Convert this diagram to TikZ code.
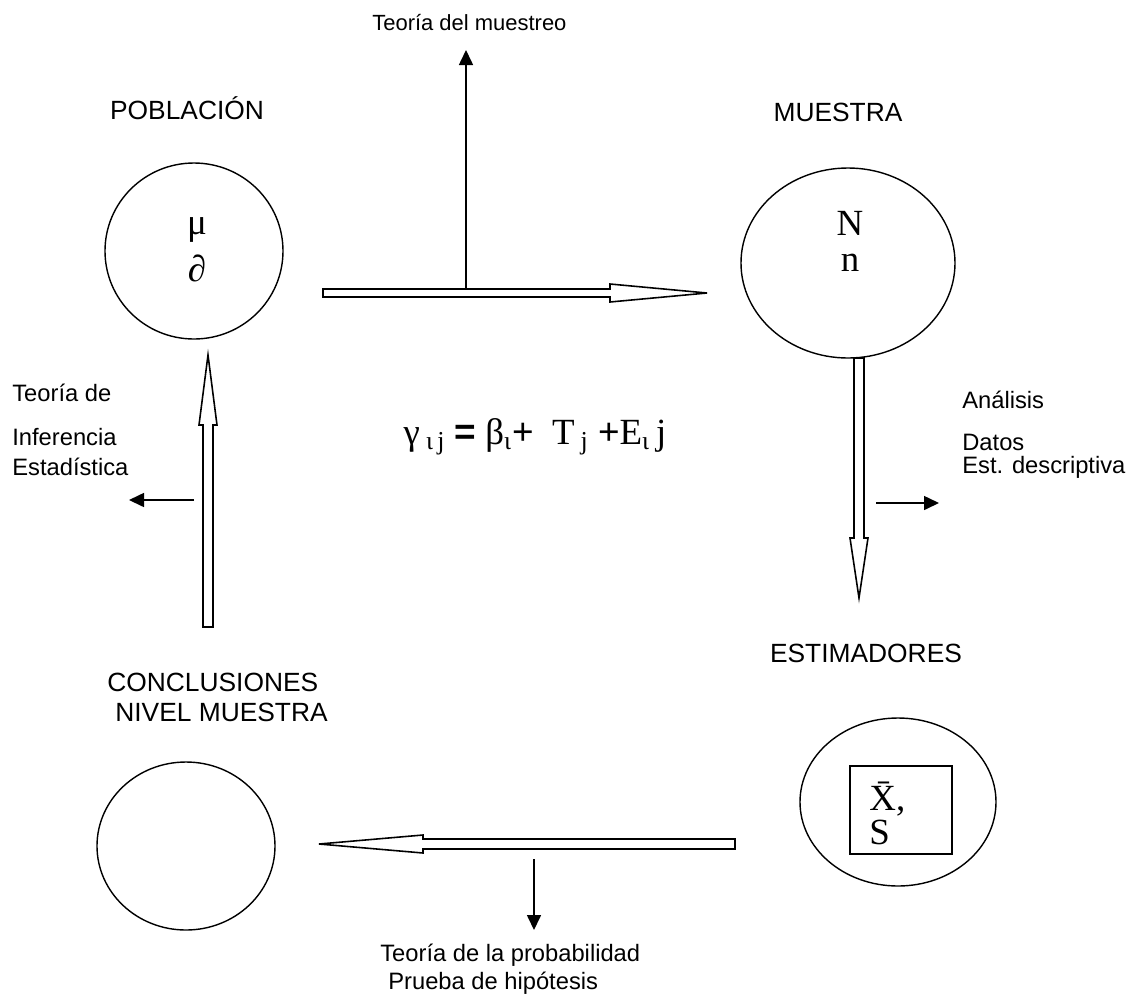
\documentclass[tikz,border=0pt]{standalone}
\usepackage{fontspec}
\setmainfont{Liberation Serif}
\setsansfont{Liberation Sans}
\usepackage{tikz}
\usetikzlibrary{shapes.geometric,arrows.meta,positioning}

\begin{document}
\begin{tikzpicture}[x=0.2mm,y=-0.2mm]
	\tikzstyle{Circulo}	= [ellipse, draw, line width=0.8pt, inner sep=0pt]
	\tikzstyle{Caja}	= [rectangle, draw, line width=0.8pt, inner sep=0pt]
	\tikzstyle{Titulo}	= [font=\fontsize{15}{17}\selectfont\sffamily, inner sep=0pt]
	\tikzstyle{Nota}	= [font=\fontsize{13.5}{16}\selectfont\sffamily, inner sep=0pt, anchor=west]
	\tikzstyle{Simbolo}	= [font=\fontsize{21}{22}\selectfont\rmfamily, inner sep=0pt]
	\tikzstyle{Hueca}	= [draw, fill=white, line width=0.9pt, line join=miter]
	\tikzstyle{Flecha}	= [line width=0.9pt, -{Triangle[length=3mm,width=2.8mm]}]

	\path[fill=white] (0,0) rectangle (1134,998);

	% circulos
	\node (cPob) at (194,251) [Circulo, minimum width=35.6mm, minimum height=35.2mm] {};
	\node (cMue) at (848,263) [Circulo, minimum width=42.8mm, minimum height=38mm] {};
	\node (cEst) at (898,802) [Circulo, minimum width=39.2mm, minimum height=33.6mm] {};
	\node (cCon) at (186,846) [Circulo, minimum width=35.6mm, minimum height=33.6mm] {};
	\node (rEst) at (901,810) [Caja, minimum width=20.4mm, minimum height=17.6mm] {};

	% titulos
	\node (tPob) at (187,108) [Titulo] {POBLACIÓN};
	\node (tMue) at (838,112) [Titulo] {MUESTRA};
	\node (tEst) at (866,653) [Titulo] {ESTIMADORES};
	\node (tCon) at (107,697) [Titulo, anchor=west, align=left] {CONCLUSIONES\\\hspace*{1.6mm}NIVEL MUESTRA};

	% simbolos
	\node (sMu) at (197,230) [Simbolo] {μ};
	\node (sDel) at (197,268) [Simbolo] {∂};
	\node (sN) at (850,223) [Simbolo] {N};
	\node (sn) at (850,263) [Simbolo] {n};
	\node (sXS) at (869,813) [Simbolo, anchor=west, align=left] {\=X,\\[-3pt]S};
	\node (ecuacion) at (535,437) [Simbolo] {γ\,\textsubscript{ι\,j} \textsf{\textbf{=}} β\textsubscript{ι}\textsf{+}\ \ T\,\textsubscript{j}\ \textsf{+}E\textsubscript{ι}\,j};

	% notas
	\node (nMuestreo) at (372,23) [Nota, font=\fontsize{12.5}{15}\selectfont\sffamily] {Teoría del muestreo};
	\node (nInf1) at (12,393) [Nota] {Teoría de};
	\node (nInf2) at (12,437) [Nota] {Inferencia};
	\node (nInf3) at (12,467) [Nota] {Estadística};
	\node (nAn1) at (962,400) [Nota] {Análisis};
	\node (nAn2) at (962,442) [Nota] {Datos};
	\node (nAn3) at (962,467) [Nota] {Est. descriptiva};
	\node (nProb1) at (380,955) [Nota] {Teoría de la probabilidad};
	\node (nProb2) at (388,983) [Nota] {Prueba de hipótesis};

	% flechas huecas
	\coordinate (hA) at (323,293);
	\coordinate (hB) at (859,358);
	\coordinate (hC) at (735,844);
	\coordinate (hD) at (208,627);
	\draw[Hueca] (hA) ++(0,-4) -- ++(287,0) -- ++(0,-5) -- ++(97,9) -- ++(-97,9) -- ++(0,-5) -- ++(-287,0) -- cycle;
	\draw[Hueca] (hB) ++(-5,0) -- ++(0,180) -- ++(-4,0) -- ++(9,60) -- ++(9,-60) -- ++(-4,0) -- ++(0,-180) -- cycle;
	\draw[Hueca] (hC) ++(0,-5) -- ++(-312,0) -- ++(0,-4) -- ++(-104,9) -- ++(104,9) -- ++(0,-4) -- ++(312,0) -- cycle;
	\draw[Hueca] (hD) ++(-5,0) -- ++(0,-202) -- ++(-4,0) -- ++(9,-70) -- ++(9,70) -- ++(-4,0) -- ++(0,202) -- cycle;

	% flechas finas
	\coordinate (fA1) at (466,289);
	\coordinate (fA2) at (466,50);
	\coordinate (fB1) at (876,503);
	\coordinate (fB2) at (939,503);
	\coordinate (fC1) at (534,859);
	\coordinate (fC2) at (534,930);
	\coordinate (fD1) at (194,500);
	\coordinate (fD2) at (129,500);
	\draw[Flecha] (fA1) -- (fA2);
	\draw[Flecha] (fB1) -- (fB2);
	\draw[Flecha] (fC1) -- (fC2);
	\draw[Flecha] (fD1) -- (fD2);
\end{tikzpicture}
\end{document}
